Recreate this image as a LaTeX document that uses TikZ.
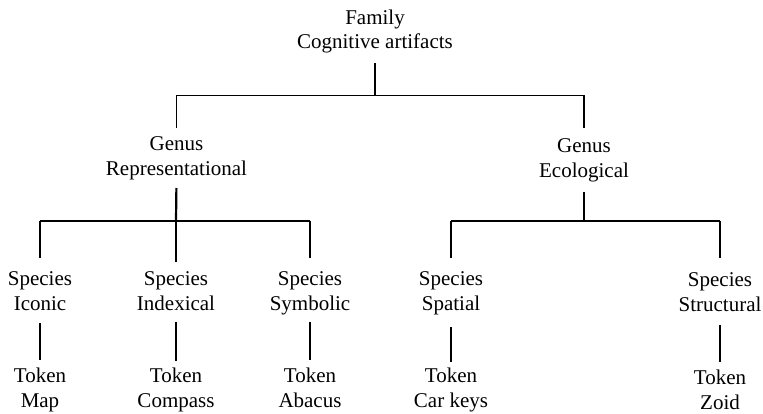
\documentclass[tikz,border=0pt]{standalone}
\usepackage{fontspec}
\setmainfont{Liberation Serif}
\newcommand{\twol}[2]{\rule{0pt}{16pt}#1\\#2\rule[-5pt]{0pt}{5pt}}
\begin{document}
\begin{tikzpicture}[x=1pt,y=-1pt,
  lbl/.style={align=center,inner sep=0pt,outer sep=0pt,font=\fontsize{21}{25}\selectfont},
  conn/.style={line width=1.3pt,black},
  thickconn/.style={line width=2.2pt,black}]
\useasboundingbox (0,0) rectangle (763,413);
% nodes
\node[lbl,font=\fontsize{21}{23.5}\selectfont] (fam) at (375,31) {\twol{Family}{Cognitive artifacts}};
\node[lbl] (rep) at (176.5,157) {\twol{Genus}{Representational}};
\node[lbl] (eco) at (584,159) {\twol{Genus}{Ecological}};
\node[lbl] (ico) at (40,292) {\twol{Species}{Iconic}};
\node[lbl] (ind) at (176,292) {\twol{Species}{Indexical}};
\node[lbl] (sym) at (310,292) {\twol{Species}{Symbolic}};
\node[lbl] (spa) at (451,292) {\twol{Species}{Spatial}};
\node[lbl] (str) at (720,293.5) {\twol{Species}{Structural}};
\node[lbl] (map) at (40,389) {\twol{Token}{Map}};
\node[lbl] (com) at (176,389) {\twol{Token}{Compass}};
\node[lbl] (aba) at (310,389) {\twol{Token}{Abacus}};
\node[lbl] (car) at (451,389) {\twol{Token}{Car keys}};
\node[lbl] (zoi) at (720,391) {\twol{Token}{Zoid}};
% junctions
\coordinate (j1) at (375,95.5);
\coordinate (j2) at (176,221);
\coordinate (j3) at (584,221);
% family level
\draw[conn,shorten <=9.5pt] (fam.south) -- (j1);
\draw[conn,shorten <=6pt,shorten >=8pt] (rep.north) |- (j1) -| (eco.north);
% representational
\draw[thickconn,shorten <=8pt] (rep.south) -- (j2);
\draw[thickconn] (ico.north |- j2) -- (sym.north |- j2);
\draw[conn,shorten >=11pt] (ico.north |- j2) -- (ico.north);
\draw[thickconn,shorten >=7pt] (j2) -- (ind.north);
\draw[conn,shorten >=11pt] (sym.north |- j2) -- (sym.north);
% ecological
\draw[conn,shorten <=10pt] (eco.south) -- (j3);
\draw[conn] (spa.north |- j3) -- (str.north |- j3);
\draw[conn,shorten >=13pt] (str.north |- j3) -- (str.north);
\draw[conn,shorten >=11pt] (spa.north |- j3) -- (spa.north);
% species to token
\draw[conn,shorten <=8pt,shorten >=6pt] (ico.south) -- (map.north);
\draw[thickconn,shorten <=7pt,shorten >=5pt] (ind.south) -- (com.north);
\draw[conn,shorten <=7pt,shorten >=6pt] (sym.south) -- (aba.north);
\draw[conn,shorten <=12pt,shorten >=4pt] (spa.south) -- (car.north);
\draw[conn,shorten <=8pt,shorten >=6pt] (str.south) -- (zoi.north);
\end{tikzpicture}
\end{document}
